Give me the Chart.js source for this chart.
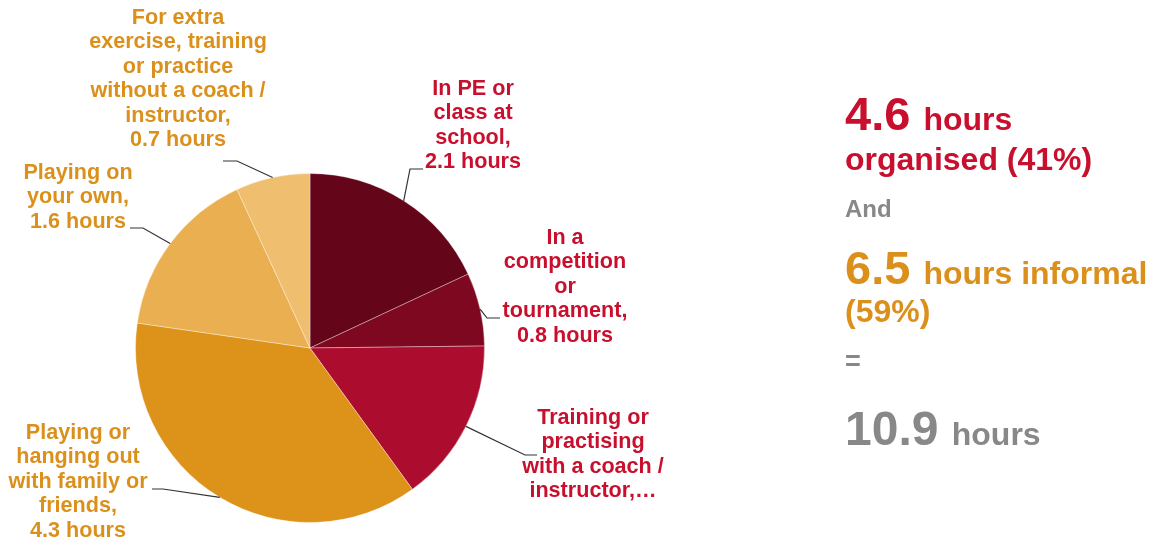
<!DOCTYPE html>
<html>
<head>
<meta charset="utf-8">
<script src="https://cdn.jsdelivr.net/npm/chart.js@4.4.1/dist/chart.umd.min.js"></script>
<style>
  html, body { margin: 0; padding: 0; background: #fff; }
  #wrap { width: 1156px; height: 542px; }
</style>
</head>
<body>
<div id="wrap"><canvas id="timeChart" width="1156" height="542"></canvas></div>
<script>
// slices, clockwise from 12 o'clock
const categories = [
    'In PE or class at school',
    'In a competition or tournament',
    'Training or practising with a coach / instructor',
    'Playing or hanging out with family or friends',
    'Playing on your own',
    'For extra exercise, training or practice without a coach / instructor'
];
const labelLines = [
    ['In PE or', 'class at', 'school,', '2.1 hours'],
    ['In a', 'competition', 'or', 'tournament,', '0.8 hours'],
    ['Training or', 'practising', 'with a coach /', 'instructor,\u2026'],
    ['Playing or', 'hanging out', 'with family or', 'friends,', '4.3 hours'],
    ['Playing on', 'your own,', '1.6 hours'],
    ['For extra', 'exercise, training', 'or practice', 'without a coach /', 'instructor,', '0.7 hours']
];
// hours as drawn (slice sizes)
const sliceHours = [1.97, 0.74, 1.66, 4.07, 1.73, 0.75];
const sliceColors = ['#64051a', '#7e0820', '#ac0c2d', '#dd921a', '#e9af50', '#efbe6f'];
const labelColors = ['#c8102e', '#c8102e', '#c8102e', '#dc901c', '#dc901c', '#dc901c'];

// summary on the right
const summaryHours = ['4.6', '6.5', '10.9'];
const summaryPct = ['41%', '59%'];

const RED = '#c8102e';
const ORANGE = '#dc901c';
const GREY = '#888888';
const FONT = '"Liberation Sans", Arial, sans-serif';

// where each label sits and how its leader line bends
const labelLayout = [
    { cx: 473, y0: 89,  elbow: [410, 169], end: [423, 169] },
    { cx: 565, y0: 238, elbow: [487, 318], end: [500, 318] },
    { cx: 593, y0: 418, elbow: [525, 455], end: [537, 455] },
    { cx: 78,  y0: 433, elbow: [163, 489], end: [152, 489] },
    { cx: 78,  y0: 173, elbow: [143, 228], end: [130, 228] },
    { cx: 178, y0: 18,  elbow: [237, 161], end: [223, 161] }
];
const LINE_H = 24.4;

const calloutPlugin = {
    id: 'callouts',
    afterDatasetsDraw(chart) {
        const ctx = chart.ctx;
        const arcs = chart.getDatasetMeta(0).data;
        ctx.save();
        arcs.forEach((arc, i) => {
            const mid = (arc.startAngle + arc.endAngle) / 2;
            const px = arc.x + Math.cos(mid) * arc.outerRadius;
            const py = arc.y + Math.sin(mid) * arc.outerRadius;
            const lay = labelLayout[i];

            ctx.strokeStyle = '#333';
            ctx.lineWidth = 1.2;
            ctx.beginPath();
            ctx.moveTo(px, py);
            ctx.lineTo(lay.elbow[0], lay.elbow[1]);
            ctx.lineTo(lay.end[0], lay.end[1]);
            ctx.stroke();

            ctx.fillStyle = labelColors[i];
            ctx.font = 'bold 21.6px ' + FONT;
            ctx.textAlign = 'center';
            ctx.textBaseline = 'middle';
            labelLines[i].forEach((line, j) => {
                ctx.fillText(line, lay.cx, lay.y0 + j * LINE_H);
            });
        });

        // right hand summary
        ctx.textAlign = 'left';
        ctx.textBaseline = 'alphabetic';
        const x0 = 845;
        const runs = [
            { y: 130, parts: [[summaryHours[0] + ' ', 47], ['hours', 32]], color: RED },
            { y: 170, parts: [['organised (' + summaryPct[0] + ')', 32]], color: RED },
            { y: 217, parts: [['And', 24]], color: GREY },
            { y: 284, parts: [[summaryHours[1] + ' ', 47], ['hours informal', 32]], color: ORANGE },
            { y: 322, parts: [['(' + summaryPct[1] + ')', 32]], color: ORANGE },
            { y: 370, parts: [['=', 27]], color: GREY },
            { y: 445, parts: [[summaryHours[2] + ' ', 48], ['hours', 32]], color: GREY }
        ];
        runs.forEach(r => {
            let x = x0;
            ctx.fillStyle = r.color;
            r.parts.forEach(([txt, size]) => {
                ctx.font = 'bold ' + size + 'px ' + FONT;
                ctx.fillText(txt, x, r.y);
                x += ctx.measureText(txt).width;
            });
        });
        ctx.restore();
    }
};

new Chart(document.getElementById('timeChart'), {
    type: 'pie',
    data: {
        labels: categories,
        datasets: [{
            data: sliceHours,
            backgroundColor: sliceColors,
            borderColor: 'rgba(255,255,255,0.35)',
            borderWidth: 1
        }]
    },
    options: {
        responsive: false,
        animation: false,
        layout: {
            padding: { left: 135, right: 671, top: 173, bottom: 19 }
        },
        plugins: {
            legend: { display: false },
            tooltip: { enabled: false }
        }
    },
    plugins: [calloutPlugin]
});
</script>
</body>
</html>
